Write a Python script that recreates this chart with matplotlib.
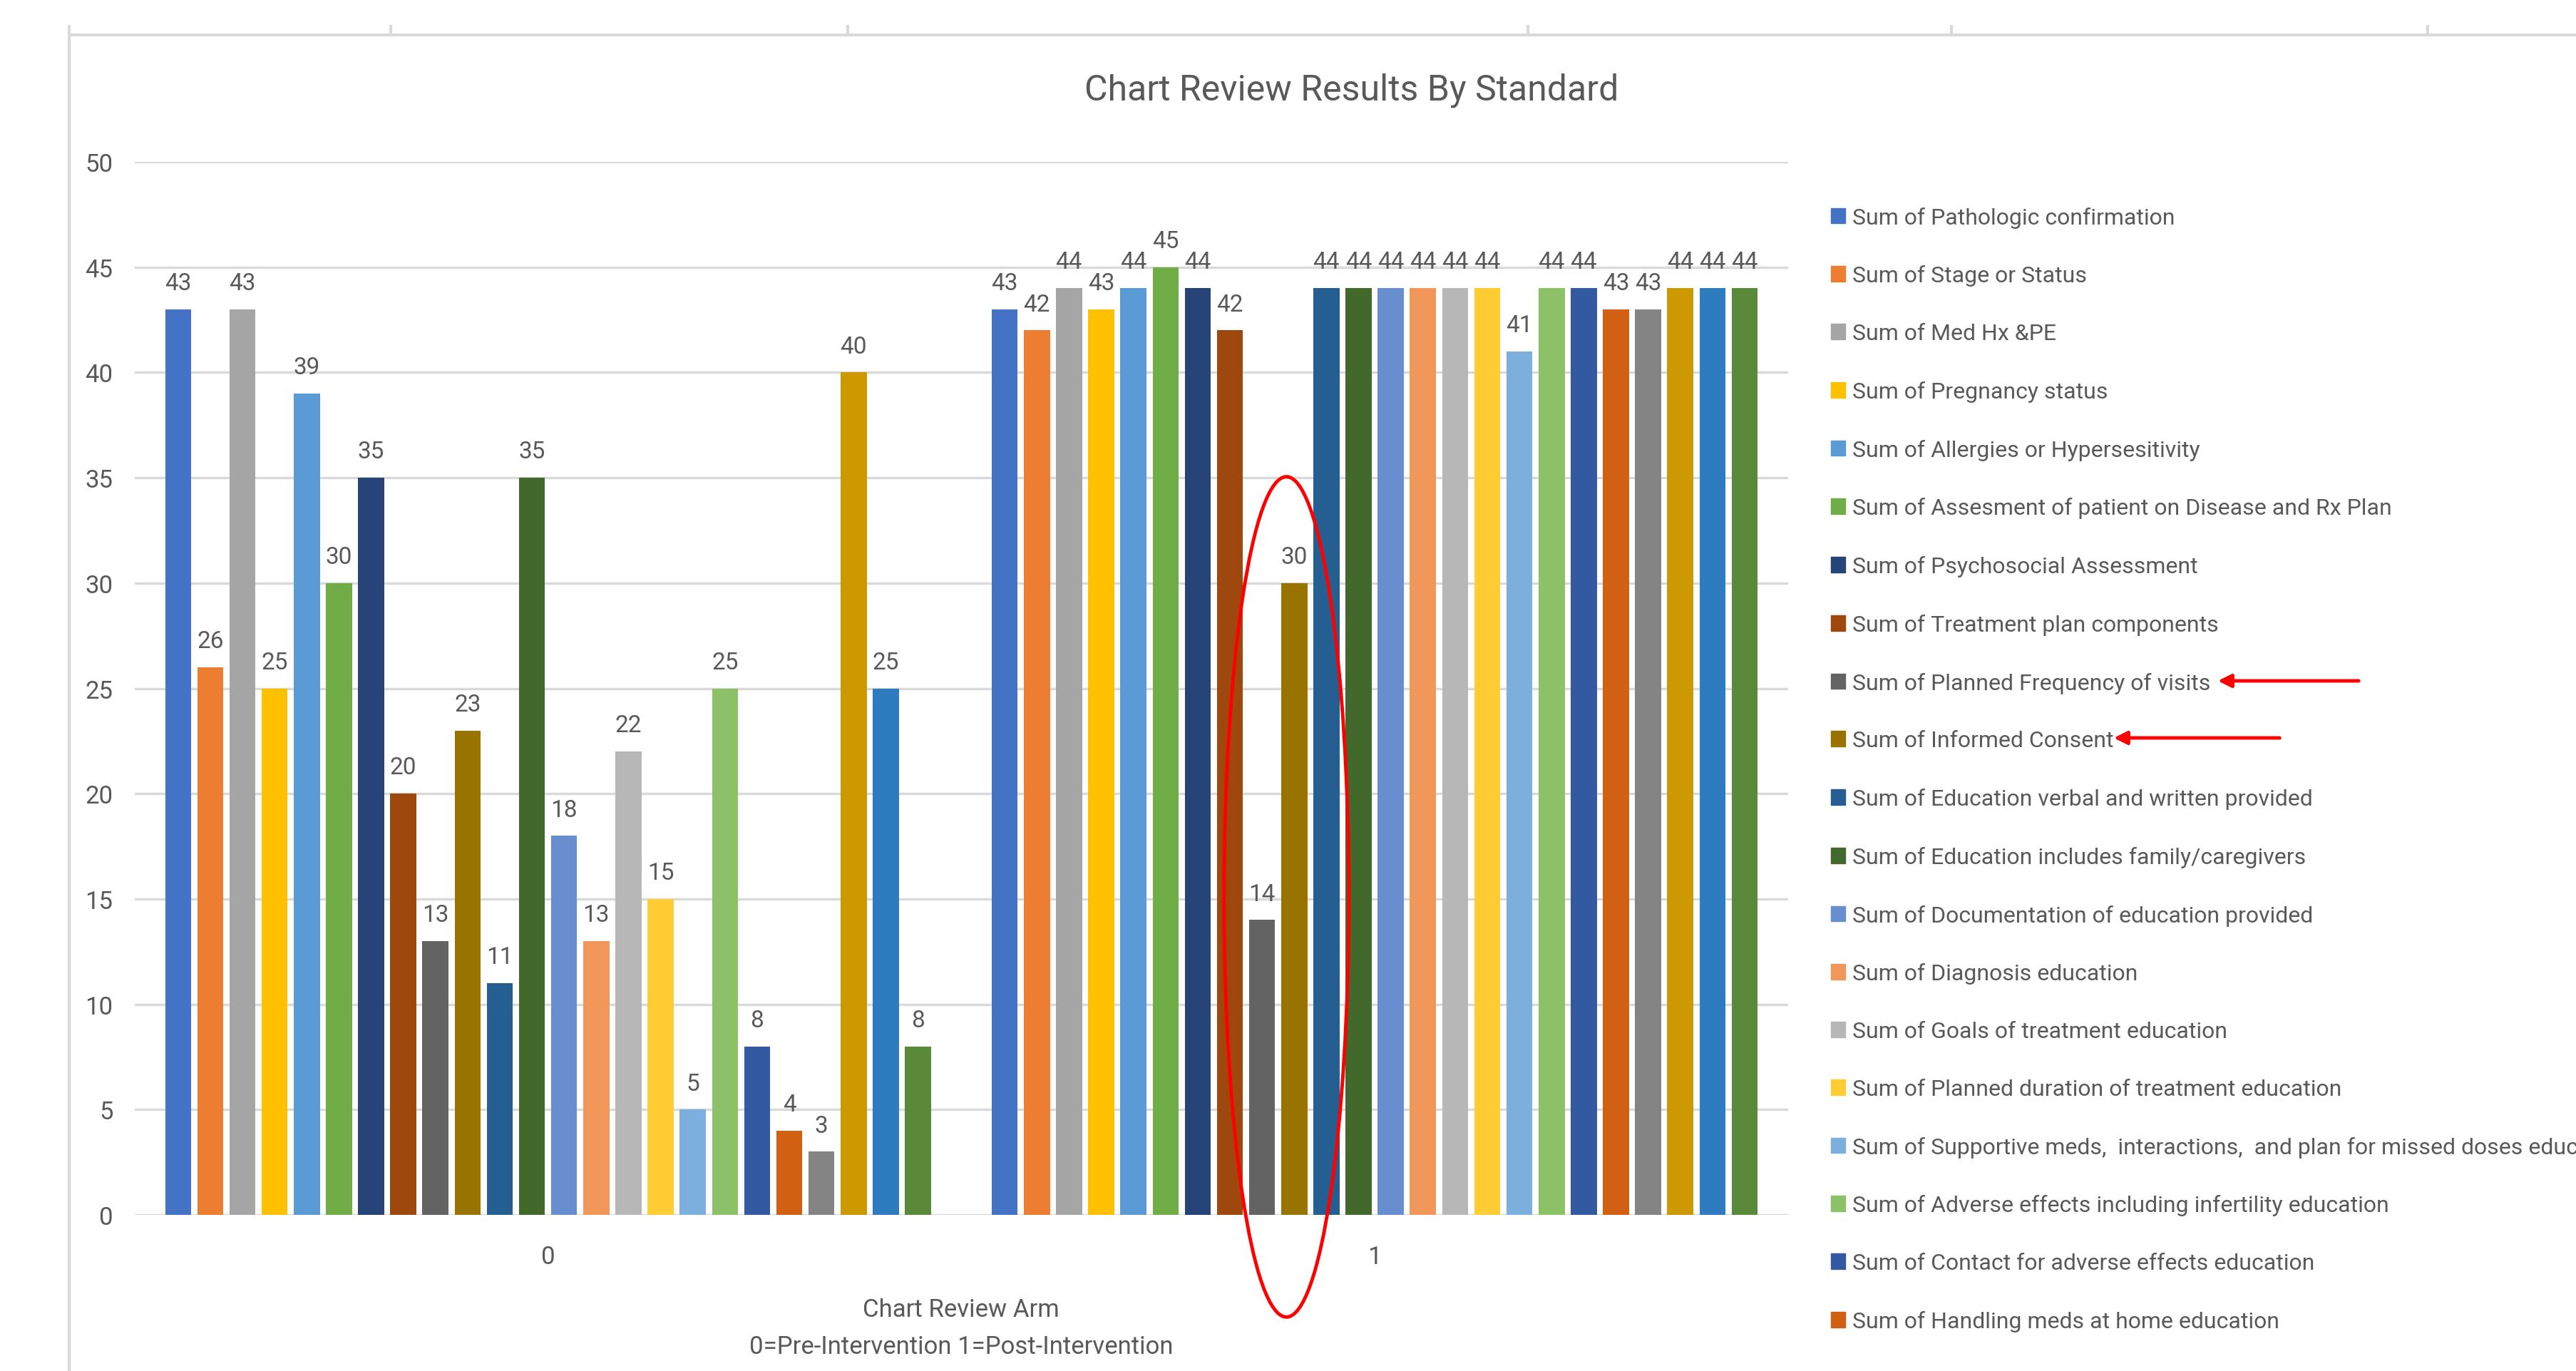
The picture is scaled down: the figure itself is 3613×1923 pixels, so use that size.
import numpy as np
import matplotlib
matplotlib.use("Agg")
import matplotlib.pyplot as plt
from matplotlib.patches import Ellipse, Patch
from matplotlib.lines import Line2D

plt.rcParams['font.family'] = ['Roboto', 'DejaVu Sans']

# chart review arms
arms = ["0", "1"]

# series names (only the first 20 are readable in the legend)
series = [
    "Sum of Pathologic confirmation",
    "Sum of Stage or Status",
    "Sum of Med Hx &PE",
    "Sum of Pregnancy status",
    "Sum of Allergies or Hypersesitivity",
    "Sum of Assesment of patient on Disease and Rx Plan",
    "Sum of Psychosocial Assessment",
    "Sum of Treatment plan components",
    "Sum of Planned Frequency of visits",
    "Sum of Informed Consent",
    "Sum of Education verbal and written provided",
    "Sum of Education includes family/caregivers",
    "Sum of Documentation of education provided",
    "Sum of Diagnosis education",
    "Sum of Goals of treatment education",
    "Sum of Planned duration of treatment education",
    "Sum of Supportive meds,  interactions,  and plan for missed doses education",
    "Sum of Adverse effects including infertility education",
    "Sum of Contact for adverse effects education",
    "Sum of Handling meds at home education",
]

pre = [43, 26, 43, 25, 39, 30, 35, 20, 13, 23, 11, 35, 18, 13, 22, 15, 5, 25, 8, 4, 3, 40, 25, 8]
post = [43, 42, 44, 43, 44, 45, 44, 42, 14, 30, 44, 44, 44, 44, 44, 44, 41, 44, 44, 43, 43, 44, 44, 44]

colors = ["#4472C4", "#ED7D31", "#A5A5A5", "#FFC000", "#5B9BD5", "#70AD47",
          "#264478", "#9E480E", "#636363", "#997300", "#255E91", "#43682B",
          "#698ED0", "#F1975A", "#B7B7B7", "#FFCD33", "#7CAFDD", "#8CC168",
          "#335AA1", "#D26012", "#848484", "#CC9A00", "#2E7CBF", "#5A8A39"]

txt = "#595959"
grid = "#D9D9D9"

fig = plt.figure(figsize=(36.13, 19.24), dpi=100)
ax = fig.add_axes([0.0523, 0.1138, 0.6418, 0.7677])

n = len(pre)
x = np.arange(len(arms))
slot = 0.934 / n
width = slot * 0.81
for i in range(n):
    vals = [pre[i], post[i]]
    pos = x + (i - (n - 1) / 2) * slot
    ax.bar(pos, vals, width, color=colors[i], zorder=3)
    for xx, v in zip(pos, vals):
        ax.annotate(str(v), (xx, v), xytext=(0, 20), textcoords="offset points",
                    ha="center", va="baseline", fontsize=24, color=txt)

ax.set_xlim(-0.5, 1.5)
ax.set_ylim(0, 50)
ax.set_yticks(range(0, 51, 5))
ax.set_xticks(x)
ax.set_xticklabels(arms)
ax.yaxis.grid(True, color=grid, linewidth=2.4, zorder=0)
ax.set_axisbelow(True)
for s in ax.spines.values():
    s.set_visible(False)
ax.tick_params(axis="both", length=0, labelsize=25, labelcolor=txt)
ax.tick_params(axis="y", pad=22)
ax.tick_params(axis="x", pad=30)
ax.set_xlabel("Chart Review Arm\n0=Pre-Intervention 1=Post-Intervention",
              fontsize=25, color=txt, labelpad=30, linespacing=1.7)

fig.text(0.5248, 0.934, "Chart Review Results By Standard", ha="center", va="center",
         fontsize=36, color=txt)

leg = ax.legend([Patch(color=c) for c in colors[:len(series)]], series,
                loc="upper left", bbox_to_anchor=(0.7108, 0.8489),
                bbox_transform=fig.transFigure, frameon=False, fontsize=23,
                labelcolor=txt, handlelength=0.62, handleheight=0.68,
                handletextpad=0.3, labelspacing=1.62, borderpad=0, borderaxespad=0)

# red ellipse around the two highlighted bars in the post group
cx = 1 + (8.5 - (n - 1) / 2) * slot + 0.01
ell = Ellipse((cx, 15.1), 0.151, 39.9, fill=False, edgecolor="red",
              linewidth=3.5, clip_on=False, zorder=5)
ax.add_patch(ell)

# red arrows pointing at the legend entries
for (x0, x1, yy) in [(3311, 3108, 956), (3200, 2962, 1036)]:
    fig.add_artist(plt.Annotation("", xy=(x1 / 3613, 1 - yy / 1924),
                                  xytext=(x0 / 3613, 1 - yy / 1924),
                                  xycoords="figure fraction",
                                  arrowprops=dict(arrowstyle="-|>,head_length=1.1,head_width=0.55",
                                                  color="red", lw=3.5)))

# spreadsheet frame around the chart
fig.add_artist(Line2D([97 / 3613, 1], [1 - 50 / 1924] * 2, color=grid, lw=3,
                      transform=fig.transFigure))
for px in [97, 548, 1189, 2143, 2737, 3405]:
    top = 1 - 38 / 1924
    bot = 0 if px == 97 else 1 - 50 / 1924
    fig.add_artist(Line2D([px / 3613] * 2, [bot, top], color=grid, lw=3,
                          transform=fig.transFigure))

fig.savefig("out.png", dpi=100)
